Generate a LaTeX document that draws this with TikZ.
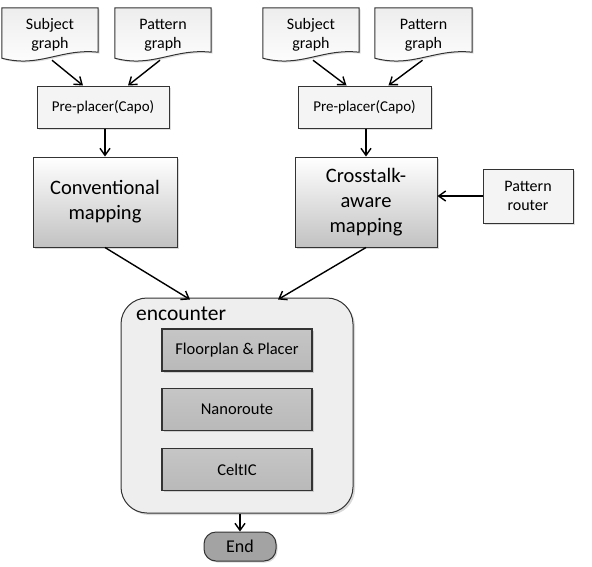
\documentclass[tikz,border=0pt]{standalone}
\usepackage{fontspec}
\setmainfont{Carlito}
\usetikzlibrary{arrows.meta,shadows,backgrounds,calc}
\definecolor{bord}{HTML}{333333}
\tikzset{
  base/.style={draw=bord, line width=1pt, align=center, inner sep=1pt},
  docbox/.style={align=center, inner sep=1pt, font=\fontsize{16}{19.5}\selectfont},
  docshape/.style={draw=bord, line width=1pt, top color=gray!14, bottom color=white,
      drop shadow={opacity=0.25, shadow xshift=1.5pt, shadow yshift=-1.5pt}},
  prebox/.style={base, fill=gray!9, font=\fontsize{15}{17}\selectfont,
      drop shadow={opacity=0.25, shadow xshift=1.5pt, shadow yshift=-1.5pt}},
  mapbox/.style={base, top color=white, bottom color=gray!48, font=\fontsize{20.5}{25}\selectfont,
      drop shadow={opacity=0.3, shadow xshift=2pt, shadow yshift=-2pt}},
  encbox/.style={draw=bord, line width=1pt, fill=gray!13, rounded corners=26pt,
      drop shadow={opacity=0.3, shadow xshift=2pt, shadow yshift=-2pt}},
  innerbox/.style={base, line width=1.2pt, top color=gray!45, bottom color=gray!55,
      font=\fontsize{16.5}{19}\selectfont,
      drop shadow={opacity=0.3, shadow xshift=1.5pt, shadow yshift=-1.5pt}},
  endbox/.style={base, fill=gray!72, rounded corners=12pt, font=\fontsize{18}{20}\selectfont,
      drop shadow={opacity=0.3, shadow xshift=1.5pt, shadow yshift=-1.5pt}},
  arr/.style={line width=1.4pt, -{Straight Barb[length=7pt,width=10pt,line width=1.4pt]}}
}
\newcommand{\docpath}[1]{%
  \path[docshape] (#1.north west) -- (#1.north east) -- ([yshift=10pt]#1.south east)
   .. controls ([xshift=-38pt,yshift=14pt]#1.south east) and ([xshift=38pt,yshift=-6pt]#1.south west) ..
   ([yshift=4pt]#1.south west) -- cycle;}
\begin{document}
\begin{tikzpicture}[x=1pt,y=-1pt]
\useasboundingbox (0,0) rectangle (592,566);
% left column
\node[docbox, minimum width=96pt, minimum height=54pt] (ls) at (50,35) {Subject\\graph};
\node[docbox, minimum width=96pt, minimum height=54pt] (lg) at (163,35) {Pattern\\graph};
\node[prebox, minimum width=132pt, minimum height=42pt] (lpre) at (103,107) {Pre-placer(Capo)};
\node[mapbox, minimum width=144pt, minimum height=90pt] (lmap) at (105,202) {Conventional\\mapping};
% right column
\node[docbox, minimum width=96pt, minimum height=54pt] (rs) at (311,35) {Subject\\graph};
\node[docbox, minimum width=97pt, minimum height=54pt] (rg) at (423.5,35) {Pattern\\graph};
\node[prebox, minimum width=133pt, minimum height=42pt] (rpre) at (364.5,107) {Pre-placer(Capo)};
\node[mapbox, minimum width=142pt, minimum height=90pt] (rmap) at (366,202) {Crosstalk-\\aware\\mapping};
\node[prebox, minimum width=90pt, minimum height=54pt, font=\fontsize{16}{19.5}\selectfont] (router) at (528,196) {Pattern\\router};
% encounter
\node[encbox, minimum width=232pt, minimum height=215pt] (enc) at (237,405.5) {};
\node[anchor=west, inner sep=0pt, font=\fontsize{21.5}{24}\selectfont] (enclab) at (136,314) {encounter};
\node[innerbox, minimum width=150pt, minimum height=42pt] (fp) at (237,350) {Floorplan \& Placer};
\node[innerbox, minimum width=150pt, minimum height=42pt] (nr) at (237,409.5) {Nanoroute};
\node[innerbox, minimum width=150pt, minimum height=42pt] (ce) at (237,469.5) {CeltIC};
\node[endbox, minimum width=72pt, minimum height=29pt] (end) at (240,546.5) {End};
\begin{pgfonlayer}{background}
\docpath{ls}
\docpath{lg}
\docpath{rs}
\docpath{rg}
\end{pgfonlayer}
% connectors
\draw[arr] ([xshift=2pt,yshift=2pt]ls.south) -- ([xshift=-20pt]lpre.north);
\draw[arr] ([xshift=-3pt,yshift=2pt]lg.south) -- ([xshift=25pt]lpre.north);
\draw[arr] (lpre.south -| lmap.north) -- (lmap.north);
\draw[arr] (lmap.south) -- ([xshift=-47pt,yshift=-2pt]enc.north);
\draw[arr] ([xshift=2pt,yshift=2pt]rs.south) -- ([xshift=-18pt]rpre.north);
\draw[arr] ([xshift=-1pt,yshift=2pt]rg.south) -- ([xshift=24pt]rpre.north);
\draw[arr] (rpre.south -| rmap.north) -- (rmap.north);
\draw[arr] (rmap.south) -- ([xshift=41pt,yshift=-2pt]enc.north);
\draw[arr] (router.west) -- (router.west -| rmap.east);
\draw[arr] (enc.south -| end.north) -- (end.north);
\end{tikzpicture}
\end{document}
